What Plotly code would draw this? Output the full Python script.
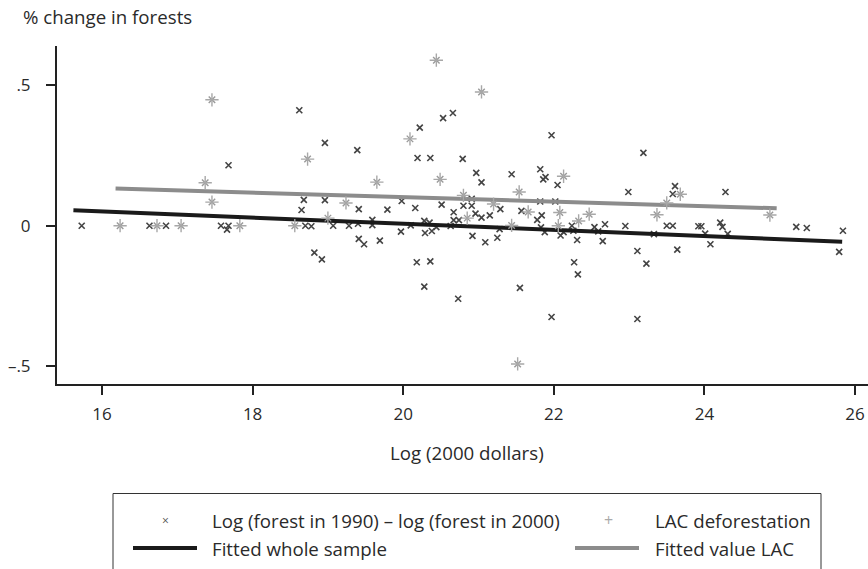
import plotly.graph_objects as go

# ---- data ----
whole_x = [15.73, 16.63, 16.85, 17.68, 17.58, 17.68, 17.66,
           18.62, 20.53, 20.66, 20.22, 18.96, 19.39, 20.19, 20.36, 20.79, 18.68, 18.96, 19.98,
           18.65, 19.41, 19.79, 20.16, 20.51, 20.80, 20.67, 20.67, 20.74, 18.70, 18.78, 19.07,
           19.28, 19.40, 19.59, 19.59, 19.97, 20.10, 20.28, 20.35, 20.44, 20.29, 20.38, 20.63,
           19.41, 19.48, 19.69, 18.82, 18.92, 20.18, 20.36, 20.28, 20.73,
           21.97, 23.19, 20.97, 21.04, 21.44, 21.82, 21.86, 21.89, 22.05, 22.99, 20.91, 20.91,
           21.82, 22.02, 21.29, 20.96, 21.04, 21.15, 21.57, 21.84, 21.78, 21.28, 21.83, 21.88,
           22.09, 22.13, 22.24, 22.26, 22.31, 22.54, 22.59, 22.68, 22.65, 22.95, 23.33, 20.92,
           21.09, 21.25, 23.11, 23.23, 22.27, 22.32, 21.55, 21.97, 23.11,
           23.61, 23.58, 24.28, 23.50, 23.58, 23.92, 23.96, 24.01, 24.21, 24.24, 24.31, 24.08,
           23.64, 25.22, 25.36, 25.84, 25.79]
whole_y = [0.0, 0.0, 0.0, 0.215, 0.0, 0.0, -0.014,
           0.411, 0.383, 0.401, 0.349, 0.295, 0.269, 0.241, 0.241, 0.238, 0.092, 0.091, 0.088,
           0.056, 0.059, 0.057, 0.063, 0.075, 0.071, 0.048, 0.020, 0.020, 0.0, -0.002, 0.0,
           0.0, 0.007, 0.021, 0.002, -0.021, 0.001, 0.017, 0.011, -0.005, -0.026, -0.019, -0.001,
           -0.047, -0.066, -0.053, -0.096, -0.120, -0.130, -0.127, -0.217, -0.260,
           0.322, 0.259, 0.188, 0.154, 0.183, 0.201, 0.165, 0.173, 0.145, 0.120, 0.096, 0.071,
           0.086, 0.086, 0.059, 0.043, 0.029, 0.037, 0.053, 0.037, 0.021, -0.012, -0.006, -0.023,
           -0.035, -0.023, 0.0, -0.018, -0.051, -0.005, -0.020, 0.005, -0.055, -0.001, -0.030, -0.036,
           -0.059, -0.043, -0.090, -0.135, -0.130, -0.173, -0.221, -0.325, -0.332,
           0.141, 0.113, 0.120, 0.0, 0.0, -0.002, -0.002, -0.028, 0.011, -0.004, -0.029, -0.066,
           -0.085, -0.004, -0.008, -0.018, -0.093]

lac_x = [16.24, 16.73, 17.05, 17.46, 17.37, 17.46, 17.83, 20.44, 20.09, 18.73, 19.65, 20.49,
         20.80, 19.24, 20.85, 19.00, 18.56, 21.04, 22.13, 21.54, 21.20, 21.66, 22.08, 22.47,
         22.33, 21.44, 22.06, 23.37, 21.52, 23.68, 23.50, 24.87]
lac_y = [0.0, 0.0, 0.0, 0.448, 0.153, 0.084, 0.0, 0.589, 0.309, 0.237, 0.155, 0.165,
         0.108, 0.081, 0.027, 0.027, 0.0, 0.476, 0.176, 0.120, 0.077, 0.049, 0.047, 0.041,
         0.017, 0.001, 0.0, 0.039, -0.492, 0.112, 0.081, 0.038]

fit_whole_x = [15.62, 25.83]
fit_whole_y = [0.055, -0.057]
fit_lac_x = [16.18, 24.96]
fit_lac_y = [0.132, 0.062]

x_ticks = [16, 18, 20, 22, 24, 26]
y_ticks = [0.5, 0, -0.5]
y_ticklabels = [".5", "0", "\u2013.5"]

legend_labels = ["Log (forest in 1990) \u2013 log (forest in 2000)", "LAC deforestation",
                 "Fitted whole sample", "Fitted value LAC"]

FONT = "Open Sans"
TXT = "#2a2a2a"
TS = 18.7   # text size
KS = 17     # tick label size

fig = go.Figure()
fig.add_trace(go.Scatter(x=whole_x, y=whole_y, mode="markers", name=legend_labels[0],
                         marker=dict(symbol="x-thin-open", size=6, color="#444444",
                                     line=dict(width=1.6, color="#444444")),
                         showlegend=False))
fig.add_trace(go.Scatter(x=fit_whole_x, y=fit_whole_y, mode="lines", name=legend_labels[2],
                         line=dict(color="#1a1a1a", width=4), showlegend=False))
fig.add_trace(go.Scatter(x=fit_lac_x, y=fit_lac_y, mode="lines", name=legend_labels[3],
                         line=dict(color="#8c8c8c", width=4), showlegend=False))
fig.add_trace(go.Scatter(x=lac_x, y=lac_y, mode="markers", name=legend_labels[1] + " (x)",
                         marker=dict(symbol="x-thin-open", size=6.5, color="#9a9a9a",
                                     line=dict(width=1.4, color="#9a9a9a")),
                         showlegend=False, hoverinfo="skip"))
fig.add_trace(go.Scatter(x=lac_x, y=lac_y, mode="markers", name=legend_labels[1],
                         marker=dict(symbol="cross-thin-open", size=9.5, color="#a8a8a8",
                                     line=dict(width=1.4, color="#a8a8a8")),
                         showlegend=False))

# plot area geometry (pixels)
L, R, T, B = 57, 868, 46, 384
W, H = R - L, B - T


def px(xp):
    return (xp - L) / W


def py(yp):
    return (B - yp) / H


fig.update_layout(
    width=868, height=569,
    margin=dict(l=L, r=868 - R, t=T, b=569 - B),
    paper_bgcolor="white", plot_bgcolor="white",
    font=dict(family=FONT, size=TS, color=TXT),
    showlegend=False,
)
fig.update_xaxes(range=[15.402, 26.173], tickvals=x_ticks, showgrid=False, zeroline=False,
                 showline=True, linecolor="#222222", linewidth=2, ticks="outside", ticklen=9,
                 tickwidth=2, tickcolor="#222222", ticklabelstandoff=5, automargin=False,
                 tickfont=dict(family=FONT, size=KS, color=TXT))
fig.update_yaxes(range=[-0.5633, 0.6395], tickvals=y_ticks, ticktext=y_ticklabels, showgrid=False,
                 zeroline=False, showline=True, linecolor="#222222", linewidth=2, ticks="outside",
                 ticklen=9, tickwidth=2, tickcolor="#222222", ticklabelstandoff=12, automargin=False,
                 tickfont=dict(family=FONT, size=KS, color=TXT))

ann = []
ann.append(dict(text="% change in forests", x=px(21), y=py(17), xref="paper", yref="paper",
                xanchor="left", yanchor="middle", showarrow=False, font=dict(size=TS)))
ann.append(dict(text="Log (2000 dollars)", x=px(467), y=py(452), xref="paper", yref="paper",
                xanchor="center", yanchor="middle", showarrow=False, font=dict(size=TS)))

# legend (drawn manually)
shapes = [dict(type="rect", xref="paper", yref="paper", x0=px(113), x1=px(821), y0=py(620), y1=py(493.5),
               line=dict(color="#333333", width=1), fillcolor="rgba(0,0,0,0)"),
          dict(type="line", xref="paper", yref="paper", x0=px(133), x1=px(197), y0=py(548), y1=py(548),
               line=dict(color="#1a1a1a", width=4)),
          dict(type="line", xref="paper", yref="paper", x0=px(575), x1=px(639), y0=py(548), y1=py(548),
               line=dict(color="#8c8c8c", width=4))]
ann.append(dict(text="\u00d7", x=px(165), y=py(520), xref="paper", yref="paper", xanchor="center",
                yanchor="middle", showarrow=False, font=dict(size=12, color="#555555")))
ann.append(dict(text="+", x=px(608), y=py(520), xref="paper", yref="paper", xanchor="center",
                yanchor="middle", showarrow=False, font=dict(size=16, color="#aaaaaa")))
for lab, xx, yy in [(legend_labels[0], 210, 520), (legend_labels[1], 653, 520),
                    (legend_labels[2], 210, 548), (legend_labels[3], 653, 548)]:
    ann.append(dict(text=lab, x=px(xx), y=py(yy), xref="paper", yref="paper", xanchor="left",
                    yanchor="middle", showarrow=False, font=dict(size=TS)))

fig.update_layout(annotations=ann, shapes=shapes)
fig.write_html("out.html", config={"displayModeBar": False},
               post_script="document.body.style.margin='0';document.body.style.overflow='hidden';")
